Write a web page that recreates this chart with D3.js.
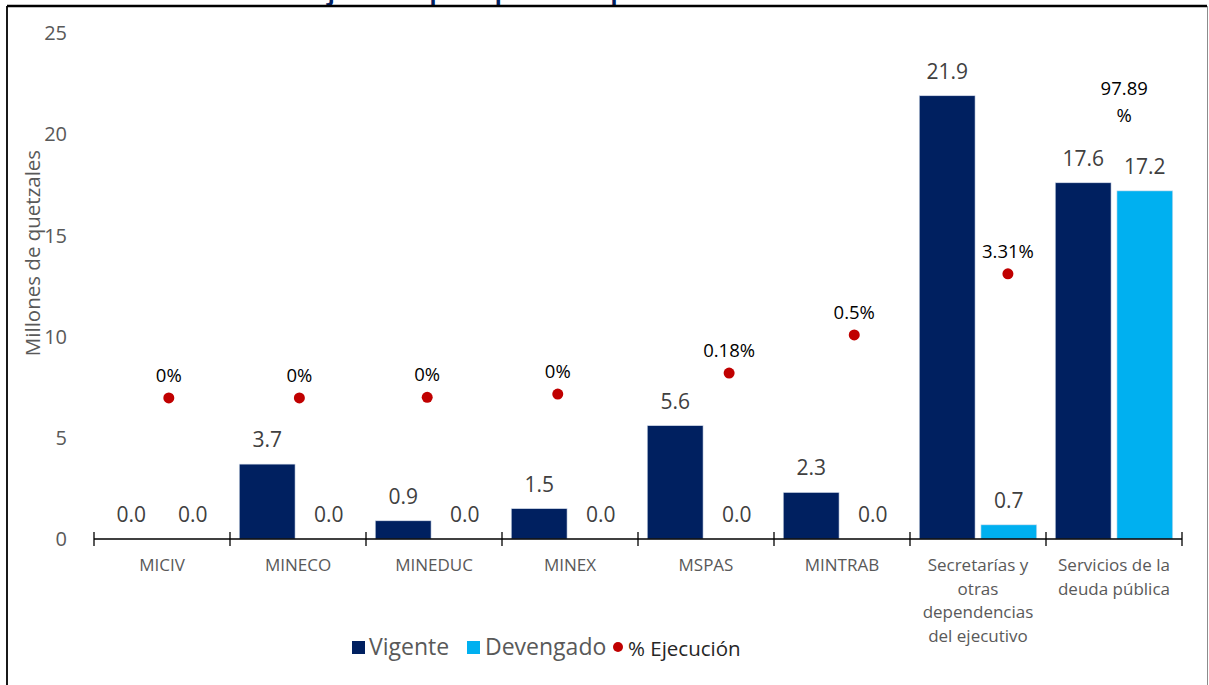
<!DOCTYPE html>
<html><head><meta charset="utf-8">
<script src="https://cdn.jsdelivr.net/npm/d3@7"></script>
<style>
html,body{margin:0;padding:0;background:#fff;}
svg{display:block;font-family:"Open Sans","Noto Sans",sans-serif;}
</style></head>
<body><svg id="chart" width="1209" height="685"></svg>
<script>
// ---- data ----
const categories = ["MICIV","MINECO","MINEDUC","MINEX","MSPAS","MINTRAB","Secretarías y otras dependencias del ejecutivo","Servicios de la deuda pública"];
const categoryLines = [["MICIV"],["MINECO"],["MINEDUC"],["MINEX"],["MSPAS"],["MINTRAB"],["Secretarías y","otras","dependencias","del ejecutivo"],["Servicios de la","deuda pública"]];
const vigente   = [0.0, 3.7, 0.9, 1.5, 5.6, 2.3, 21.9, 17.6];
const devengado = [0.0, 0.0, 0.0, 0.0, 0.0, 0.0, 0.7, 17.2];
const ejecucionLabels = ["0%","0%","0%","0%","0.18%","0.5%","3.31%","97.89|%"];
// marker level (read against the left axis, in millions) and horizontal place inside each category
const ejecucionLevel = [6.97, 6.97, 7.0, 7.16, 8.2, 10.08, 13.1, null];
const ejecucionShift = [0.55, 0.51, 0.45, 0.41, 0.67, 0.59, 0.72, 0.575];
const yTicks = [0, 5, 10, 15, 20, 25];
const seriesNames = ["Vigente","Devengado"];
const colors = {Vigente:"#002060", Devengado:"#00B0F0", dot:"#C00000"};

const svg = d3.select("#chart");

// frame + clipped title
svg.append("text").attr("x", 612).attr("y", 0).attr("text-anchor","middle")
  .attr("font-size", 23).attr("font-weight","bold").attr("fill","#002060")
  .text("Gráfica 4: Ejecución presupuestaria por institución del Gobierno Central");
svg.append("rect").attr("x",7).attr("y",6).attr("width",1200).attr("height",700)
  .attr("fill","#fff").attr("stroke","none");
svg.append("line").attr("x1",7).attr("x2",1207).attr("y1",6).attr("y2",6).attr("stroke","#000").attr("stroke-width",2.5);
svg.append("line").attr("x1",7).attr("x2",7).attr("y1",6).attr("y2",685).attr("stroke","#000").attr("stroke-width",1.8);
svg.append("line").attr("x1",1207.5).attr("x2",1207.5).attr("y1",6).attr("y2",685).attr("stroke","#8c8c8c").attr("stroke-width",1);

const x0 = 94, x1 = 1182, yBase = 539, yTop = 33;
const x = d3.scaleBand().domain(categories).range([x0, x1]).paddingInner(0).paddingOuter(0);
const xs = d3.scaleBand().domain(seriesNames).range([0, x.bandwidth()]).paddingInner(0.095).paddingOuter(0.15);
const y = d3.scaleLinear().domain([0, 25]).range([yBase, yTop]);

// y tick labels
svg.append("g").selectAll("text").data(yTicks).join("text")
  .attr("x", 67).attr("y", d => y(d)).attr("dy","0.36em").attr("text-anchor","end")
  .attr("font-size", 20).attr("fill","#595959").text(d => d);

// y title
svg.append("text").attr("transform","translate(40,253) rotate(-90)")
  .attr("text-anchor","middle").attr("font-size",20.5).attr("fill","#595959")
  .text("Millones de quetzales");

// bars
const rows = categories.map((c,i) => ({c, i, Vigente: vigente[i], Devengado: devengado[i]}));
const g = svg.append("g");
seriesNames.forEach(s => {
  g.selectAll("rect."+s).data(rows).join("rect").attr("class", s)
    .attr("x", d => x(d.c) + xs(s)).attr("width", xs.bandwidth())
    .attr("y", d => y(d[s])).attr("height", d => yBase - y(d[s]))
    .attr("fill", colors[s]).attr("stroke", d => d[s] > 0 ? "#d6deec" : "none").attr("stroke-width", 0.6);
  g.selectAll("text."+s).data(rows).join("text").attr("class", s)
    .attr("x", d => x(d.c) + xs(s) + xs.bandwidth()/2)
    .attr("y", d => y(d[s]) - 17).attr("text-anchor","middle")
    .attr("font-size", 21).attr("fill","#404040").text(d => d[s].toFixed(1));
});

// x axis line and ticks
const ax = svg.append("g");
ax.append("line").attr("x1", x0).attr("x2", x1).attr("y1", yBase).attr("y2", yBase).attr("stroke","#000").attr("stroke-width",1.5);
const bounds = categories.map(c => x(c)).concat([x1]);
ax.selectAll("line.tk").data(bounds).join("line").attr("class","tk")
  .attr("x1", d => d).attr("x2", d => d).attr("y1", yBase - 7).attr("y2", yBase + 7)
  .attr("stroke","#000").attr("stroke-width",1.3);

// category labels
const cl = svg.append("g").selectAll("text").data(categories).join("text")
  .attr("x", d => x(d) + x.bandwidth()/2).attr("y", 571).attr("text-anchor","middle")
  .attr("font-size", 17).attr("fill","#595959");
cl.each(function(d,i){
  const t = d3.select(this);
  categoryLines[i].forEach((ln,k) => t.append("tspan").attr("x", x(d) + x.bandwidth()/2).attr("dy", k===0?0:23.6).text(ln));
});

// % Ejecución markers
const pg = svg.append("g");
categories.forEach((c,i) => {
  const cx = x(c) + ejecucionShift[i]*x.bandwidth();
  const lv = ejecucionLevel[i];
  if (lv !== null) {
    pg.append("circle").attr("cx", cx).attr("cy", y(lv)).attr("r", 5.5).attr("fill", colors.dot);
    pg.append("text").attr("x", cx).attr("y", y(lv) - 16).attr("text-anchor","middle")
      .attr("font-size", 18.5).attr("fill","#000").text(ejecucionLabels[i]);
  } else {
    const parts = ejecucionLabels[i].split("|");
    parts.forEach((p,k) => pg.append("text").attr("x", cx).attr("y", 95 + k*27).attr("text-anchor","middle")
      .attr("font-size", 18.5).attr("fill","#000").text(p));
  }
});

// legend
const lg = svg.append("g");
lg.append("rect").attr("x",352).attr("y",641).attr("width",13).attr("height",13).attr("fill",colors.Vigente);
lg.append("text").attr("x",369).attr("y",655).attr("font-size",23).attr("fill","#595959").text("Vigente");
lg.append("rect").attr("x",467).attr("y",641).attr("width",13).attr("height",13).attr("fill",colors.Devengado);
lg.append("text").attr("x",485).attr("y",655).attr("font-size",23).attr("fill","#595959").text("Devengado");
lg.append("circle").attr("cx",618).attr("cy",647).attr("r",5).attr("fill",colors.dot);
lg.append("text").attr("x",628).attr("y",655.5).attr("font-size",20.5).attr("fill","#262626").text("% Ejecución");
</script></body></html>
